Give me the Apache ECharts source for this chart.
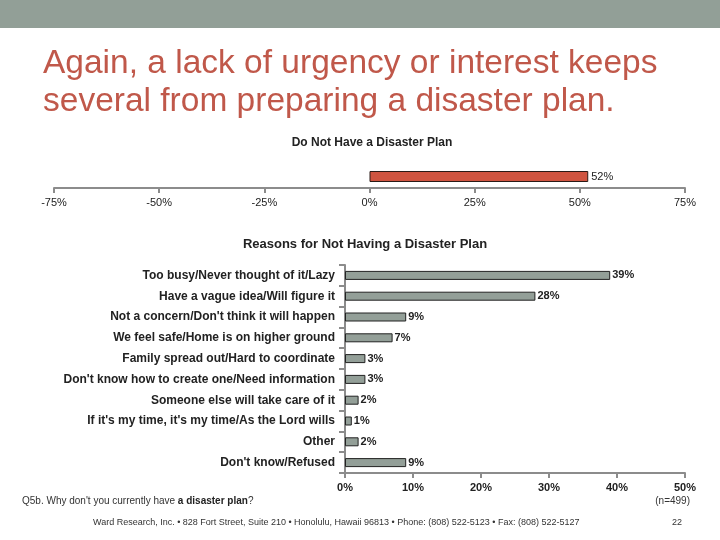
<!DOCTYPE html>
<html>
<head>
<meta charset="utf-8">
<script src="https://cdn.jsdelivr.net/npm/echarts@6/dist/echarts.min.js"></script>
<style>
  html, body { margin: 0; padding: 0; background: #fff; }
  #main { width: 720px; height: 540px; }
</style>
</head>
<body>
<div id="main"></div>
<script>
// top chart
var topCategories = ['Do Not Have a Disaster Plan'];
var topValues = [52];

// reasons chart
var reasonCategories = [
    'Too busy/Never thought of it/Lazy',
    'Have a vague idea/Will figure it',
    'Not a concern/Don\'t think it will happen',
    'We feel safe/Home is on higher ground',
    'Family spread out/Hard to coordinate',
    'Don\'t know how to create one/Need information',
    'Someone else will take care of it',
    'If it\'s my time, it\'s my time/As the Lord wills',
    'Other',
    'Don\'t know/Refused'
];
var reasonValues = [39, 28, 9, 7, 3, 3, 2, 1, 2, 9];

var FONT = 'Liberation Sans, Arial, sans-serif';
var axisGray = '#8c8c8c';

var chart = echarts.init(document.getElementById('main'));

var option = {
    animation: false,
    backgroundColor: '#fff',
    textStyle: { fontFamily: FONT },
    title: [{
        text: 'Do Not Have a Disaster Plan',
        left: 367, top: 132, textAlign: 'center',
        textStyle: { fontSize: 12, fontWeight: 'bold', color: '#222', fontFamily: FONT }
    }, {
        text: 'Reasons for Not Having a Disaster Plan',
        left: 360, top: 233, textAlign: 'center',
        textStyle: { fontSize: 13, fontWeight: 'bold', color: '#222', fontFamily: FONT }
    }],
    grid: [
        { left: 54, right: 35, top: 165, height: 23 },
        { left: 345, right: 35, top: 265, height: 208 }
    ],
    xAxis: [{
        gridIndex: 0, type: 'value', min: -75, max: 75, interval: 25,
        splitLine: { show: false },
        axisLine: { show: true, lineStyle: { color: axisGray, width: 2 } },
        axisTick: { show: true, length: 5, lineStyle: { color: axisGray, width: 2 } },
        axisLabel: { formatter: '{value}%', color: '#222', fontSize: 11, margin: 9 }
    }, {
        gridIndex: 1, type: 'value', min: 0, max: 50, interval: 10,
        splitLine: { show: false },
        axisLine: { show: true, lineStyle: { color: axisGray, width: 2 } },
        axisTick: { show: true, length: 5, lineStyle: { color: axisGray, width: 2 } },
        axisLabel: { formatter: '{value}%', color: '#222', fontSize: 11, fontWeight: 'bold', margin: 9 }
    }],
    yAxis: [{
        gridIndex: 0, type: 'category', data: topCategories,
        axisLine: { show: false }, axisTick: { show: false }, axisLabel: { show: false }
    }, {
        gridIndex: 1, type: 'category', data: reasonCategories, inverse: true,
        axisLine: { show: true, lineStyle: { color: axisGray, width: 2 } },
        axisTick: { show: true, length: 6, lineStyle: { color: axisGray, width: 2 } },
        axisLabel: { color: '#222', fontSize: 12, fontWeight: 'bold', margin: 10 }
    }],
    series: [{
        type: 'bar', xAxisIndex: 0, yAxisIndex: 0, data: topValues,
        barWidth: 11,
        itemStyle: { color: '#cf5440', borderColor: '#2a1a16', borderWidth: 1 },
        label: { show: true, position: 'right', distance: 3, formatter: '{c}%', color: '#222', fontSize: 11 }
    }, {
        type: 'bar', xAxisIndex: 1, yAxisIndex: 1, data: reasonValues,
        barWidth: 9,
        itemStyle: { color: '#939f98', borderColor: '#222', borderWidth: 1 },
        label: { show: true, position: 'right', distance: 2, formatter: '{c}%', color: '#222', fontSize: 11, fontWeight: 'bold' }
    }],
    graphic: [{
        type: 'rect', left: 0, top: 0, shape: { width: 720, height: 28 },
        style: { fill: '#929f97' }
    }, {
        type: 'text', left: 43, top: 45,
        style: {
            text: 'Again, a lack of urgency or interest keeps\nseveral from preparing a disaster plan.',
            font: '33.5px ' + FONT, lineHeight: 38, fill: '#c0584a'
        }
    }, {
        type: 'text', left: 22, top: 496,
        style: {
            text: 'Q5b. Why don\'t you currently have {b|a disaster plan}?',
            font: '10px ' + FONT, fill: '#333',
            rich: { b: { fontWeight: 'bold', fontSize: 10, fontFamily: FONT, fill: '#222' } }
        }
    }, {
        type: 'text', right: 30, top: 496,
        style: { text: '(n=499)', font: '10px ' + FONT, fill: '#333' }
    }, {
        type: 'text', left: 93, top: 518,
        style: {
            text: 'Ward Research, Inc. \u2022 828 Fort Street, Suite 210 \u2022 Honolulu, Hawaii 96813 \u2022 Phone: (808) 522-5123 \u2022 Fax: (808) 522-5127',
            font: '9px ' + FONT, fill: '#333'
        }
    }, {
        type: 'text', left: 672, top: 518,
        style: { text: '22', font: '9px ' + FONT, fill: '#333' }
    }]
};

chart.setOption(option);
</script>
</body>
</html>
